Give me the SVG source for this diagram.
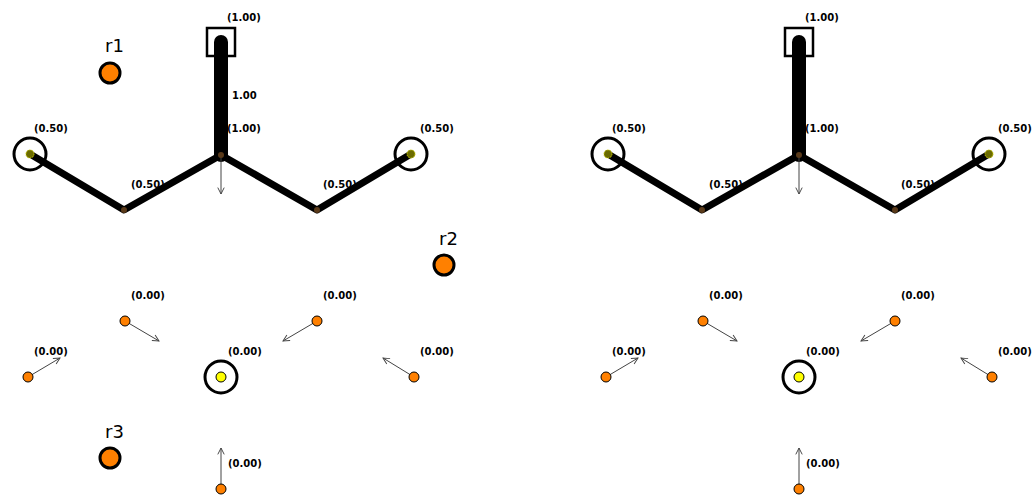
<svg xmlns="http://www.w3.org/2000/svg" width="1032" height="495" viewBox="0 0 1032 495">
  <style>
    .bg { fill: #ffffff; }
    .edge { stroke: #000; fill: none; stroke-linecap: round; stroke-linejoin: round; }
    .ring { fill: none; stroke: #000; stroke-width: 3; }
    .box { fill: none; stroke: #000; stroke-width: 2.5; }
    .core { fill: #6b6b00; stroke: #c8c800; stroke-width: 1; stroke-dasharray: 1.5 1; }
    .joint { fill: #5a3a1a; }
    .pt { fill: #ff8000; stroke: #000; stroke-width: 1; }
    .hub { fill: #ffff00; stroke: #000; stroke-width: 1; }
    .robot { fill: #ff8000; stroke: #000; stroke-width: 3; }
    .vec { stroke: #444; stroke-width: 1; fill: none; marker-end: url(#head); }
    .val { font-family: "DejaVu Sans", Verdana, sans-serif; font-size: 10px; font-weight: bold; fill: #000; }
    .name { font-family: "DejaVu Sans", Verdana, sans-serif; font-size: 18px; fill: #000; }
  </style>
  <defs>
    <marker id="head" viewBox="0 0 10 10" refX="9" refY="5" markerWidth="8" markerHeight="8" markerUnits="userSpaceOnUse" orient="auto">
      <path d="M1,1 L9,5 L1,9" fill="none" stroke="#444" stroke-width="1.2"/>
    </marker>
    <!-- one panel: tree of weighted edges plus sample points with their vectors -->
    <g id="panel">
      <g id="connectors">
        <line class="edge" x1="221" y1="42" x2="221" y2="155" stroke-width="14"/>
        <polyline class="edge" points="30,154 124,210 221,155 317,210 411,154" stroke-width="7"/>
        <line class="vec" x1="221" y1="155" x2="221" y2="194"/>
        <line class="vec" x1="125" y1="321" x2="159" y2="341"/>
        <line class="vec" x1="317" y1="321" x2="283" y2="341"/>
        <line class="vec" x1="28" y1="377" x2="60" y2="358"/>
        <line class="vec" x1="414" y1="377" x2="383" y2="358"/>
        <line class="vec" x1="221" y1="489" x2="221" y2="448"/>
      </g>
      <g id="n-top"><rect class="box" x="207" y="28" width="28" height="28"/><text class="val" x="227" y="21">(1.00)</text></g>
      <g id="n-center"><circle class="joint" cx="221" cy="155" r="3"/><text class="val" x="227" y="132">(1.00)</text></g>
      <g id="n-left"><circle class="ring" cx="30" cy="154" r="16"/><circle class="core" cx="30" cy="154" r="4"/><text class="val" x="34" y="132">(0.50)</text></g>
      <g id="n-right"><circle class="ring" cx="411" cy="154" r="16"/><circle class="core" cx="411" cy="154" r="4"/><text class="val" x="420" y="132">(0.50)</text></g>
      <g id="n-lmid"><circle class="joint" cx="124" cy="210" r="3"/><text class="val" x="131" y="188">(0.50)</text></g>
      <g id="n-rmid"><circle class="joint" cx="317" cy="210" r="3"/><text class="val" x="323" y="188">(0.50)</text></g>
      <g id="p1"><circle class="pt" cx="125" cy="321" r="5"/><text class="val" x="131" y="299">(0.00)</text></g>
      <g id="p2"><circle class="pt" cx="317" cy="321" r="5"/><text class="val" x="323" y="299">(0.00)</text></g>
      <g id="p3"><circle class="pt" cx="28" cy="377" r="5"/><text class="val" x="34" y="355">(0.00)</text></g>
      <g id="p4"><circle class="pt" cx="414" cy="377" r="5"/><text class="val" x="420" y="355">(0.00)</text></g>
      <g id="p5"><circle class="ring" cx="221" cy="377" r="16"/><circle class="hub" cx="221" cy="377" r="5"/><text class="val" x="228" y="355">(0.00)</text></g>
      <g id="p6"><circle class="pt" cx="221" cy="489" r="5"/><text class="val" x="228" y="467">(0.00)</text></g>
    </g>
  </defs>
  <rect class="bg" x="0" y="0" width="1032" height="495"/>
  <g id="left-panel">
    <use href="#panel"/>
    <g id="w-top"><text class="val" x="232" y="99">1.00</text></g>
    <g id="r1"><circle class="robot" cx="110" cy="73" r="10"/><text class="name" x="105" y="52">r1</text></g>
    <g id="r2"><circle class="robot" cx="444" cy="265" r="10"/><text class="name" x="439" y="245">r2</text></g>
    <g id="r3"><circle class="robot" cx="110" cy="458" r="10"/><text class="name" x="105" y="438">r3</text></g>
  </g>
  <g id="right-panel" transform="translate(578,0)">
    <use href="#panel"/>
  </g>
</svg>
